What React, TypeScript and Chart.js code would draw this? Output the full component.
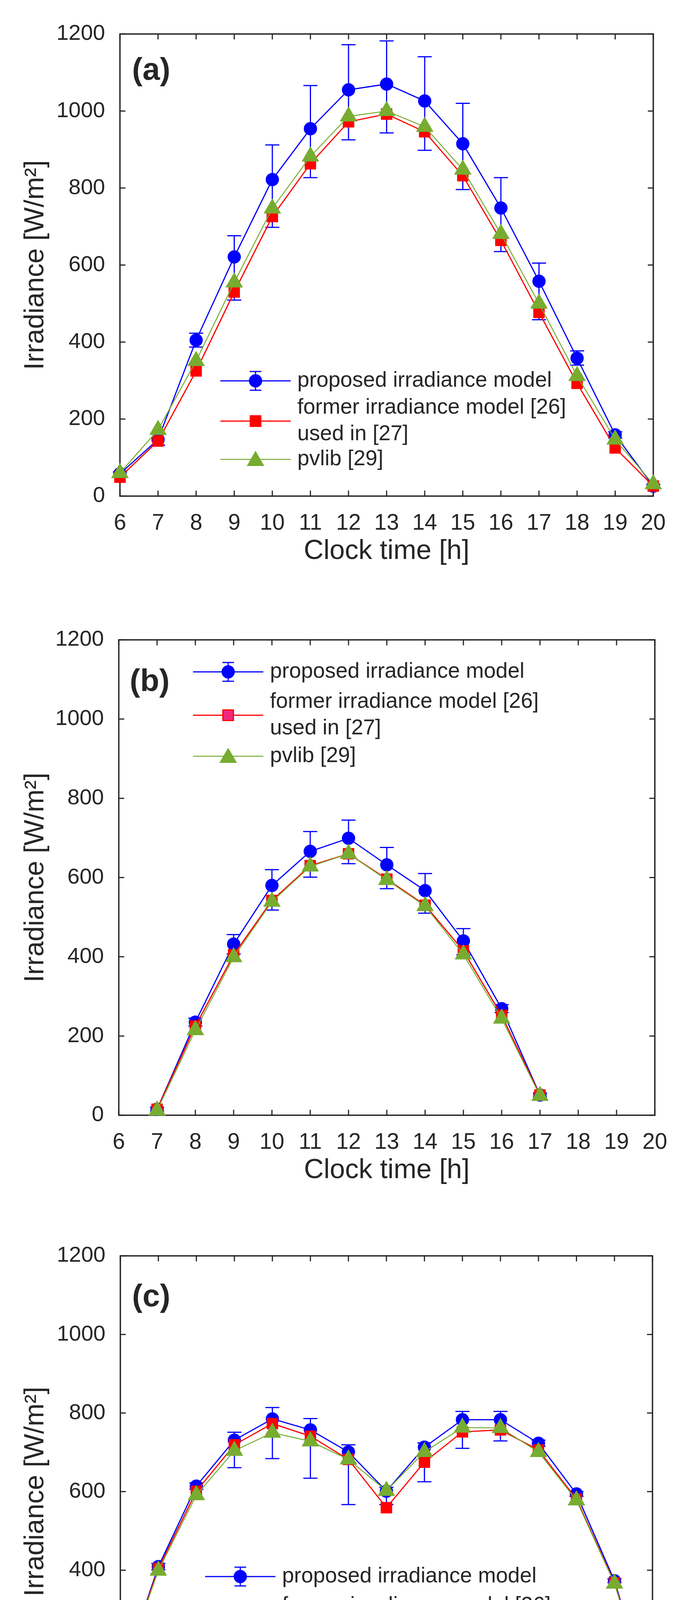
import { useEffect, useRef } from 'react';
import { Chart, registerables } from 'chart.js';
import type { Plugin } from 'chart.js';

Chart.register(...registerables);

const FONT = '"Liberation Sans", Arial, Helvetica, sans-serif';
const INK = '#262626';
const BLUE = '#0000ff';
const RED = '#ff0000';
const GREEN = '#77ac30';

// ---- data ----
const hoursAC = [6, 7, 8, 9, 10, 11, 12, 13, 14, 15, 16, 17, 18, 19, 20];
const hoursB = [7, 8, 9, 10, 11, 12, 13, 14, 15, 16, 17];
const xTickValues = [6, 7, 8, 9, 10, 11, 12, 13, 14, 15, 16, 17, 18, 19, 20];
const yTickValues = [0, 200, 400, 600, 800, 1000, 1200];

const legendLabels = ['proposed irradiance model', 'former irradiance model [26]', 'used in [27]', 'pvlib [29]'];
const xTitle = 'Clock time [h]';
const yTitle = 'Irradiance [W/m²]';

// (a)
const aProposed = [58, 147, 405, 621, 822, 954, 1055, 1070, 1026, 915, 748, 558, 358, 159, 26];
const aPlus = [5, 15, 18, 55, 90, 112, 117, 112, 115, 105, 79, 47, 19, 8, 4];
const aMinus = [5, 15, 18, 112, 124, 127, 130, 127, 128, 119, 113, 100, 18, 8, 4];
const aFormer = [49, 143, 325, 530, 726, 863, 972, 992, 946, 832, 664, 477, 293, 125, 26];
const aPvlib = [60, 172, 351, 555, 747, 882, 986, 1000, 959, 848, 681, 500, 312, 147, 31];

// (b)
const bProposed = [15, 235, 432, 580, 666, 699, 632, 567, 440, 269, 51];
const bPlus = [5, 10, 24, 40, 50, 46, 44, 43, 31, 10, 5];
const bMinus = [5, 10, 25, 62, 65, 64, 60, 57, 35, 10, 5];
const bFormer = [15, 225, 405, 542, 630, 660, 596, 530, 415, 252, 51];
const bPvlib = [12, 215, 399, 539, 628, 660, 594, 528, 406, 244, 49];

// (c)
const cProposed = [123, 409, 614, 731, 785, 757, 701, 601, 713, 783, 783, 723, 594, 373, 51];
const cPlus = [5, 8, 8, 20, 29, 29, 18, 10, 11, 21, 21, 8, 6, 5, 3];
const cMinus = [5, 8, 8, 70, 101, 123, 134, 34, 88, 73, 54, 8, 6, 5, 3];
const cFormer = [123, 404, 601, 719, 773, 741, 682, 559, 675, 752, 757, 706, 581, 368, 49];
const cPvlib = [125, 399, 591, 704, 750, 728, 682, 602, 701, 763, 762, 701, 578, 366, 51];

// ---- layout ----
interface Layout {
  top: number;
  height: number;
  left: number;
  right: number;
  plotTop: number;
  plotBottom: number;
  labelDx: number;
  labelDy: number;
  legendDx: number;
  legendBlue: number;
  legendRed: number;
  legendGreen: number;
  squareFill: string;
}

interface PanelProps {
  label: string;
  hours: number[];
  proposed: number[];
  plus: number[];
  minus: number[];
  former: number[];
  pvlib: number[];
  layout: Layout;
}

const PAGE_W = 1766;
const X_AXIS_H = 184;
const TICK = 14;
const CAP = 18;

function drawCircle(ctx: CanvasRenderingContext2D, x: number, y: number, r: number) {
  ctx.beginPath();
  ctx.arc(x, y, r, 0, Math.PI * 2);
  ctx.fill();
}

function drawSquare(ctx: CanvasRenderingContext2D, x: number, y: number, s: number) {
  ctx.fillRect(x - s / 2, y - s / 2, s, s);
}

function drawTriangle(ctx: CanvasRenderingContext2D, x: number, y: number, r: number) {
  ctx.beginPath();
  ctx.moveTo(x, y - r);
  ctx.lineTo(x + 0.866 * r, y + 0.5 * r);
  ctx.lineTo(x - 0.866 * r, y + 0.5 * r);
  ctx.closePath();
  ctx.fill();
}

function Panel({ label, hours, proposed, plus, minus, former, pvlib, layout }: PanelProps) {
  const canvasRef = useRef<HTMLCanvasElement>(null);

  useEffect(() => {
    if (!canvasRef.current) return;
    const L = layout;

    // box with inward ticks on all four sides
    const boxPlugin: Plugin<'line'> = {
      id: 'matlabBox',
      beforeDatasetsDraw(chart) {
        const { ctx, chartArea: a, scales } = chart;
        ctx.save();
        ctx.strokeStyle = INK;
        ctx.lineWidth = 3.5;
        ctx.strokeRect(a.left, a.top, a.right - a.left, a.bottom - a.top);
        ctx.lineWidth = 3;
        ctx.beginPath();
        scales.x.ticks.forEach(t => {
          const px = scales.x.getPixelForValue(t.value);
          ctx.moveTo(px, a.bottom);
          ctx.lineTo(px, a.bottom - TICK);
          ctx.moveTo(px, a.top);
          ctx.lineTo(px, a.top + TICK);
        });
        scales.y.ticks.forEach(t => {
          const py = scales.y.getPixelForValue(t.value);
          ctx.moveTo(a.left, py);
          ctx.lineTo(a.left + TICK, py);
          ctx.moveTo(a.right, py);
          ctx.lineTo(a.right - TICK, py);
        });
        ctx.stroke();
        ctx.restore();
      }
    };

    // error bars of the proposed model, drawn right after its line
    const errorBars: Plugin<'line'> = {
      id: 'errorBars',
      afterDatasetDraw(chart, args) {
        if (args.index !== 0) return;
        const { ctx } = chart;
        const y = chart.scales.y;
        ctx.save();
        ctx.strokeStyle = BLUE;
        ctx.lineWidth = 3;
        ctx.beginPath();
        args.meta.data.forEach((pt, i) => {
          const top = y.getPixelForValue(proposed[i] + plus[i]);
          const bot = y.getPixelForValue(proposed[i] - minus[i]);
          ctx.moveTo(pt.x, top);
          ctx.lineTo(pt.x, bot);
          ctx.moveTo(pt.x - CAP, top);
          ctx.lineTo(pt.x + CAP, top);
          ctx.moveTo(pt.x - CAP, bot);
          ctx.lineTo(pt.x + CAP, bot);
        });
        ctx.stroke();
        ctx.restore();
      }
    };

    // panel letter and legend
    const overlay: Plugin<'line'> = {
      id: 'overlay',
      afterDraw(chart) {
        const { ctx, chartArea: a } = chart;
        ctx.save();
        ctx.fillStyle = INK;
        ctx.textAlign = 'left';
        ctx.textBaseline = 'middle';
        ctx.font = `bold 80px ${FONT}`;
        ctx.fillText(label, a.left + L.labelDx, a.top + L.labelDy);

        const x0 = a.left + L.legendDx;
        const x1 = x0 + 180;
        const xm = (x0 + x1) / 2;
        const xt = x1 + 17;
        const yb = a.top + L.legendBlue;
        const yr = a.top + L.legendRed;
        const yg = a.top + L.legendGreen;

        // proposed
        ctx.strokeStyle = BLUE;
        ctx.lineWidth = 3;
        ctx.beginPath();
        ctx.moveTo(x0, yb);
        ctx.lineTo(x1, yb);
        ctx.moveTo(xm, yb - 24);
        ctx.lineTo(xm, yb + 24);
        ctx.moveTo(xm - 15, yb - 24);
        ctx.lineTo(xm + 15, yb - 24);
        ctx.moveTo(xm - 15, yb + 24);
        ctx.lineTo(xm + 15, yb + 24);
        ctx.stroke();
        ctx.fillStyle = BLUE;
        drawCircle(ctx, xm, yb, 17);

        // former
        ctx.strokeStyle = RED;
        ctx.beginPath();
        ctx.moveTo(x0, yr);
        ctx.lineTo(x1, yr);
        ctx.stroke();
        ctx.fillStyle = RED;
        drawSquare(ctx, xm, yr, 30);
        ctx.fillStyle = L.squareFill;
        drawSquare(ctx, xm, yr, 24);

        // pvlib
        ctx.strokeStyle = GREEN;
        ctx.lineWidth = 2.5;
        ctx.beginPath();
        ctx.moveTo(x0, yg);
        ctx.lineTo(x1, yg);
        ctx.stroke();
        ctx.fillStyle = GREEN;
        drawTriangle(ctx, xm, yg + 4, 26);

        ctx.fillStyle = INK;
        ctx.font = `55px ${FONT}`;
        ctx.fillText(legendLabels[0], xt, yb);
        ctx.fillText(legendLabels[1], xt, yr - 34);
        ctx.fillText(legendLabels[2], xt, yr + 34);
        ctx.fillText(legendLabels[3], xt, yg);
        ctx.restore();
      }
    };

    const toPoints = (vals: number[]) => hours.map((h, i) => ({ x: h, y: vals[i] }));
    const plotH = L.plotBottom - L.top;

    const chart = new Chart(canvasRef.current, {
      type: 'line',
      data: {
        datasets: [
          {
            label: legendLabels[0],
            data: toPoints(proposed),
            borderColor: BLUE,
            backgroundColor: BLUE,
            borderWidth: 3,
            pointStyle: 'circle',
            pointRadius: 16,
            pointBorderWidth: 2,
            pointBackgroundColor: BLUE,
            pointBorderColor: BLUE,
            order: 3,
            clip: false
          },
          {
            label: legendLabels[1],
            data: toPoints(former),
            borderColor: RED,
            backgroundColor: RED,
            borderWidth: 3,
            pointStyle: 'rect',
            pointRadius: 20,
            pointBorderWidth: 1,
            pointBackgroundColor: RED,
            pointBorderColor: RED,
            order: 2,
            clip: false
          },
          {
            label: legendLabels[3],
            data: toPoints(pvlib),
            borderColor: GREEN,
            backgroundColor: GREEN,
            borderWidth: 2.5,
            pointStyle: 'triangle',
            pointRadius: 25,
            pointBorderWidth: 1,
            pointBackgroundColor: GREEN,
            pointBorderColor: GREEN,
            order: 1,
            clip: false
          }
        ]
      },
      options: {
        responsive: false,
        animation: false,
        events: [],
        layout: {
          padding: {
            left: 0,
            right: PAGE_W - L.right,
            top: L.plotTop - L.top,
            bottom: L.height - plotH - X_AXIS_H
          }
        },
        plugins: {
          legend: { display: false },
          tooltip: { enabled: false }
        },
        scales: {
          x: {
            type: 'linear',
            min: 6,
            max: 20,
            afterBuildTicks: s => {
              s.ticks = xTickValues.map(v => ({ value: v }));
            },
            afterFit: s => {
              s.height = X_AXIS_H;
            },
            ticks: {
              autoSkip: false,
              maxRotation: 0,
              padding: 28,
              color: INK,
              font: { family: FONT, size: 57 },
              callback: v => String(v)
            },
            grid: { display: false },
            border: { display: false },
            title: {
              display: true,
              text: xTitle,
              color: INK,
              font: { family: FONT, size: 70 },
              padding: { top: 0, bottom: 0 }
            }
          },
          y: {
            type: 'linear',
            min: 0,
            max: 1200,
            afterBuildTicks: s => {
              s.ticks = yTickValues.map(v => ({ value: v }));
            },
            afterFit: s => {
              s.width = L.left;
            },
            ticks: {
              padding: 30,
              color: INK,
              font: { family: FONT, size: 56 },
              callback: v => String(v)
            },
            grid: { display: false },
            border: { display: false },
            title: {
              display: true,
              text: yTitle,
              color: INK,
              font: { family: FONT, size: 70 },
              padding: { top: 50, bottom: 0 }
            }
          }
        }
      },
      plugins: [boxPlugin, errorBars, overlay]
    });

    return () => {
      chart.destroy();
    };
  }, [label, hours, proposed, plus, minus, former, pvlib, layout]);

  return (
    <canvas
      ref={canvasRef}
      width={PAGE_W}
      height={layout.height}
      style={{ position: 'absolute', left: 0, top: layout.top, width: PAGE_W, height: layout.height }}
    />
  );
}

const layoutA: Layout = {
  top: 0, height: 1500, left: 307, right: 1672, plotTop: 87, plotBottom: 1270,
  labelDx: 31, labelDy: 95, legendDx: 257, legendBlue: 888, legendRed: 991, legendGreen: 1089,
  squareFill: RED
};
const layoutB: Layout = {
  top: 1500, height: 1550, left: 304, right: 1676, plotTop: 1638, plotBottom: 2855,
  labelDx: 28, labelDy: 109, legendDx: 190, legendBlue: 82, legendRed: 193, legendGreen: 298,
  squareFill: '#f2287c'
};
const layoutC: Layout = {
  top: 3050, height: 1600, left: 308, right: 1670, plotTop: 3215, plotBottom: 4422,
  labelDx: 30, labelDy: 107, legendDx: 217, legendBlue: 821, legendRed: 930, legendGreen: 1035,
  squareFill: RED
};

export default function App() {
  return (
    <div style={{ position: 'absolute', left: 0, top: 0, width: PAGE_W, height: 4650, background: '#ffffff' }}>
      <Panel label="(a)" hours={hoursAC} proposed={aProposed} plus={aPlus} minus={aMinus} former={aFormer} pvlib={aPvlib} layout={layoutA} />
      <Panel label="(b)" hours={hoursB} proposed={bProposed} plus={bPlus} minus={bMinus} former={bFormer} pvlib={bPvlib} layout={layoutB} />
      <Panel label="(c)" hours={hoursAC} proposed={cProposed} plus={cPlus} minus={cMinus} former={cFormer} pvlib={cPvlib} layout={layoutC} />
    </div>
  );
}
